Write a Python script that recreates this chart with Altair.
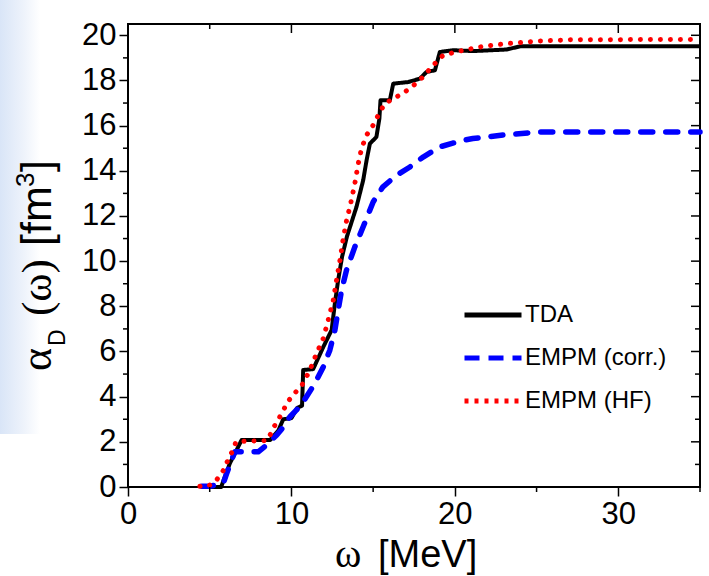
import altair as alt
import pandas as pd

# ---------------- data ----------------
series_names = ["TDA", "EMPM (corr.)", "EMPM (HF)"]
series_colors = ["#000000", "#0000ff", "#ff0000"]

tda_x = [4.5, 5.7, 5.93, 6.24, 6.65, 6.95, 8.7, 9.2, 9.5, 10.0, 10.35, 10.65, 10.72, 11.33,
         11.95, 12.46, 12.66, 12.86, 13.1, 13.4, 13.98, 14.39, 14.6, 14.8, 15.2, 15.38, 15.45,
         16.02, 16.23, 17.15, 17.86, 18.27, 18.78, 19.08, 19.9, 21.1, 23.16, 24.0, 35.0]
tda_y = [0.0, 0.0, 0.46, 1.06, 1.64, 2.08, 2.08, 2.5, 3.0, 3.05, 3.5, 3.6, 5.18, 5.22,
         6.2, 6.95, 8.13, 9.16, 10.2, 11.1, 12.4, 13.58, 14.47, 15.2, 15.5, 16.3, 17.12,
         17.12, 17.86, 17.93, 18.08, 18.38, 18.45, 19.26, 19.34, 19.3, 19.37, 19.51, 19.51]

corr_x = [4.5, 5.0, 5.83, 6.04, 6.34, 6.54, 7.36, 7.97, 8.48, 9.1, 9.6, 9.9, 10.3, 10.72,
          11.44, 11.95, 12.35, 12.66, 12.86, 13.07, 13.37, 13.88, 14.39, 15.0, 15.6, 16.43,
          17.25, 18.06, 19.08, 20.5, 21.1, 23.16, 25.2, 35.0]
corr_y = [0.03, 0.03, 0.16, 0.6, 1.19, 1.56, 1.56, 1.56, 1.86, 2.3, 2.74, 3.1, 3.4, 3.77,
          4.59, 5.32, 6.06, 6.95, 7.83, 8.72, 9.6, 10.63, 11.52, 12.62, 13.29, 13.8,
          14.17, 14.61, 15.06, 15.35, 15.43, 15.6, 15.72, 15.72]

hf_x = [4.4, 4.9, 5.42, 5.93, 6.14, 6.44, 6.6, 7.2, 8.5, 8.69, 8.99, 9.3, 9.8, 10.2, 10.72,
        11.13, 11.54, 11.95, 12.25, 12.56, 12.76, 12.97, 13.17, 13.4, 13.58, 13.88, 14.09,
        14.29, 14.6, 15.0, 15.41, 15.72, 16.43, 17.25, 18.06, 18.67, 19.28, 20.3, 21.73,
        23.16, 25.2, 27.0, 35.0]
hf_y = [0.03, 0.03, 0.31, 0.83, 1.27, 1.64, 2.0, 2.03, 2.05, 2.3, 2.74, 3.12, 3.8, 4.15, 4.59,
        5.18, 5.92, 6.58, 7.39, 8.27, 9.16, 10.04, 11.0, 11.9, 12.4, 13.44, 14.32,
        14.99, 15.58, 16.02, 16.6, 16.98, 17.27, 17.64, 18.16, 18.67, 19.12, 19.3, 19.51,
        19.63, 19.75, 19.8, 19.82]

x_major = [0, 10, 20, 30]
x_minor = [5, 15, 25, 35]
y_major = [0, 2, 4, 6, 8, 10, 12, 14, 16, 18, 20]
y_minor = [1, 3, 5, 7, 9, 11, 13, 15, 17, 19]

rows = []
for name, xs, ys in zip(series_names, [tda_x, corr_x, hf_x], [tda_y, corr_y, hf_y]):
    for i, (xv, yv) in enumerate(zip(xs, ys)):
        rows.append({"series": name, "x": xv, "y": yv, "order": i})
df = pd.DataFrame(rows)

# ---------------- styling ----------------
FONT = "Liberation Sans"
SERIF = "Liberation Serif"
W, H = 572, 463

x_scale = alt.Scale(domain=[0, 35], nice=False, zero=False)
y_scale = alt.Scale(domain=[0, 20.5], nice=False, zero=False)

color_scale = alt.Scale(domain=series_names, range=series_colors)
# dash patterns used for the legend symbols
dash_scale = alt.Scale(domain=series_names, range=[[1, 0], [15, 9], [4, 6]])

legend_spec = dict(
    orient="none", legendX=334, legendY=260, title=None,
    symbolType="stroke", symbolSize=3249, symbolStrokeWidth=5,
    labelFontSize=24, labelFont=FONT, labelColor="black", labelOffset=1,
    rowPadding=-37, padding=0,
)

x_axis = alt.Axis(
    values=x_major, tickSize=9, tickWidth=1.5, tickColor="black",
    domain=False, grid=False,
    labelFont=FONT, labelFontSize=31, labelColor="black", labelPadding=3,
    labelFlush=False, title=None,
)
y_axis = alt.Axis(
    values=y_major, tickSize=9, tickWidth=1.5, tickColor="black",
    domain=False, grid=False,
    labelFont=FONT, labelFontSize=31, labelColor="black", labelPadding=3,
    labelFlush=False, title=None,
)

# per-series line style in the plot (round caps give dots / rounded dashes)
line_style = {
    "TDA": dict(strokeWidth=4, strokeCap="butt"),
    "EMPM (corr.)": dict(strokeWidth=5.5, strokeCap="round", strokeDash=[12, 13]),
    "EMPM (HF)": dict(strokeWidth=5, strokeCap="round", strokeDash=[0.1, 9.9]),
}

# light blue slide band on the far left (decoration behind the axis title)
band = alt.Chart(pd.DataFrame({"a": [0]})).mark_rect(
    fill=alt.LinearGradient(
        gradient="linear", x1=0, x2=1, y1=0, y2=0,
        stops=[alt.GradientStop(color="#d9e5f7", offset=0),
               alt.GradientStop(color="#eef3fb", offset=0.6),
               alt.GradientStop(color="#ffffff", offset=1)],
    )
).encode(x=alt.value(-128), x2=alt.value(-88), y=alt.value(-24), y2=alt.value(410))


def series_layer(name, first):
    enc = dict(
        x=alt.X("x:Q", scale=x_scale, axis=x_axis),
        y=alt.Y("y:Q", scale=y_scale, axis=y_axis),
        color=alt.Color("series:N", scale=color_scale, legend=alt.Legend(**legend_spec)),
        order="order:Q",
    )
    if first:
        enc["strokeDash"] = alt.StrokeDash("series:N", scale=dash_scale, legend=alt.Legend(**legend_spec))
    return (
        alt.Chart(df)
        .transform_filter(alt.datum.series == name)
        .mark_line(strokeJoin="round", **line_style[name])
        .encode(**enc)
    )


lines = [series_layer(n, i == 0) for i, n in enumerate(series_names)]


def xticks(vals, y0, y1):
    return alt.Chart(pd.DataFrame({"v": vals})).mark_rule(color="black", strokeWidth=1.5).encode(
        x=alt.X("v:Q", scale=x_scale, axis=x_axis), y=alt.value(y0), y2=alt.value(y1))


def yticks(vals, x0, x1):
    return alt.Chart(pd.DataFrame({"v": vals})).mark_rule(color="black", strokeWidth=1.5).encode(
        y=alt.Y("v:Q", scale=y_scale, axis=y_axis), x=alt.value(x0), x2=alt.value(x1))


tick_layers = [
    xticks(x_major[1:], 0, 9),      # top, inward
    xticks(x_minor[:-1], 0, 5),
    xticks(x_minor, H, H + 5),      # bottom minor, outward
    yticks(y_major, W, W - 9),      # right, inward
    yticks(y_minor, W, W - 5),
    yticks(y_minor, 0, -5),         # left minor, outward
]

one = pd.DataFrame({"a": [0]})


def label(text, x, y, size, font, angle=0):
    kw = dict(align="left", baseline="alphabetic", font=font, fontSize=size, color="black")
    if angle:
        kw["angle"] = angle
    return alt.Chart(one).mark_text(**kw).encode(x=alt.value(x), y=alt.value(y), text=alt.value(text))


# x-axis title: ω [MeV]
x_title = [
    label("ω", 207, 543, 40, SERIF),
    label("[MeV]", 250, 543, 38, FONT),
]

# y-axis title: α_D (ω) [fm³]  (rotated, reading bottom to top)
B = 51 - 128
S = 371 - 24
y_title = [
    label("α", B, S, 44, SERIF, 270),
    label("D", B + 14, S - 25, 23, FONT, 270),
    label("(ω)", B, S - 55, 43, SERIF, 270),
    label("[fm", B, S - 125, 43, FONT, 270),
    label("3", B - 17, S - 184, 26, FONT, 270),
    label("]", B, S - 199, 43, FONT, 270),
]

chart = (
    alt.layer(band, *lines, *tick_layers, *x_title, *y_title)
    .properties(
        width=W, height=H,
        autosize=alt.AutoSizeParams(type="none"),
        padding={"left": 128, "top": 24, "right": 9, "bottom": 89},
        background="white",
    )
    .configure_view(stroke="black", strokeWidth=2)
)

chart.save("out.html", embed_options={"renderer": "svg", "actions": False})
